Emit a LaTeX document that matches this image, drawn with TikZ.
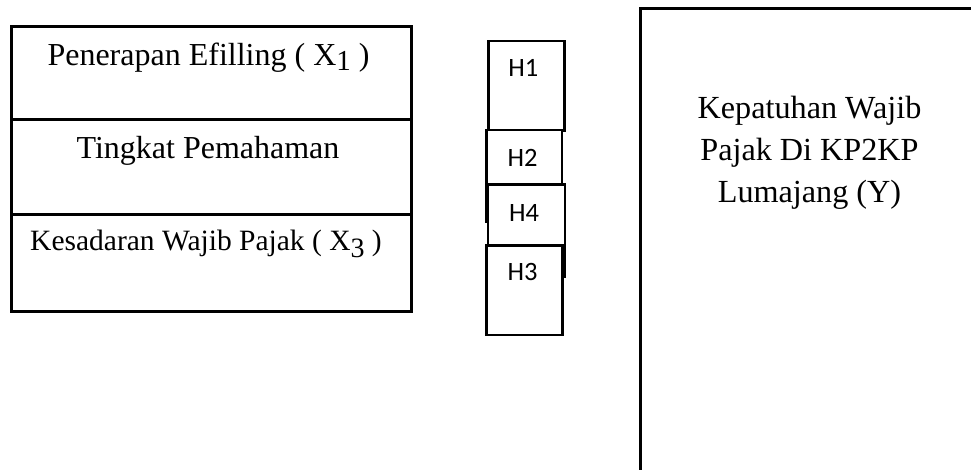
\documentclass[tikz,border=0pt]{standalone}
\usepackage{fontspec}
\setmainfont{Liberation Serif}
\newfontfamily\hfont{Carlito}
\begin{document}
\begin{tikzpicture}[x=1pt,y=-1pt,
  cell/.style={draw, line width=3pt, fill=white, inner sep=0pt, anchor=north west},
  hbox/.style={draw, line width=2.6pt, fill=white, inner sep=0pt, anchor=north west},
  big/.style={anchor=base, inner sep=0pt, font=\fontsize{32}{38}\selectfont},
  mid/.style={anchor=base, inner sep=0pt, font=\fontsize{32.2}{38}\selectfont},
  small/.style={anchor=base, inner sep=0pt, font=\fontsize{29.5}{35}\selectfont},
  hlab/.style={anchor=base, inner sep=0pt, font=\hfont\fontsize{26.5}{30}\selectfont}]
\useasboundingbox (0,0) rectangle (971,469);
\begin{scope}
\clip (0,0) rectangle (971,469);

% variables stack
\node[cell, minimum width=400.5pt, minimum height=93pt]   (c1) at (9.5,25) {};
\node[cell, minimum width=400.5pt, minimum height=94.8pt] (c2) at (9.5,118) {};
\node[cell, minimum width=400.5pt, minimum height=97.2pt] (c3) at (9.5,212.8) {};

% hypothesis boxes, each partly covered by the next
\node[hbox, minimum width=75.8pt, minimum height=89.5pt] (h1) at (487.2,39.5) {};
\node[hbox, minimum width=75.7pt, minimum height=91.3pt] (h2) at (485,128.7) {};
\node[hbox, minimum width=77.1pt, minimum height=92pt]   (h4) at (486.7,183) {};
\node[hbox, minimum width=76pt,   minimum height=89.8pt] (h3) at (485,244) {};

% dependent variable
\node[cell, minimum width=400pt, minimum height=500pt] (yb) at (638.7,6.7) {};
\end{scope}

% texts
\node[big]   (t1) at (208.5,65)  {Penerapan Efilling ( X\raisebox{-5pt}{\fontsize{29}{30}\selectfont 1} )};
\node[big]   (t2) at (208,158.3) {Tingkat Pemahaman};
\node[small] (t3) at (206,250.5) {Kesadaran Wajib Pajak ( X\raisebox{-7pt}{\fontsize{28}{30}\selectfont 3} )};

\node[hlab] (l1) at (523.3,76.7)  {H1};
\node[hlab] (l2) at (522.5,166.7) {H2};
\node[hlab] (l4) at (524,221.7)   {H4};
\node[hlab] (l3) at (522.5,280)   {H3};

\node[mid] (k1) at (809.5,118.3) {Kepatuhan Wajib};
\node[mid] (k2) at (809.5,160.3) {Pajak Di KP2KP};
\node[mid] (k3) at (809.5,202.3) {Lumajang (Y)};
\end{tikzpicture}
\end{document}
